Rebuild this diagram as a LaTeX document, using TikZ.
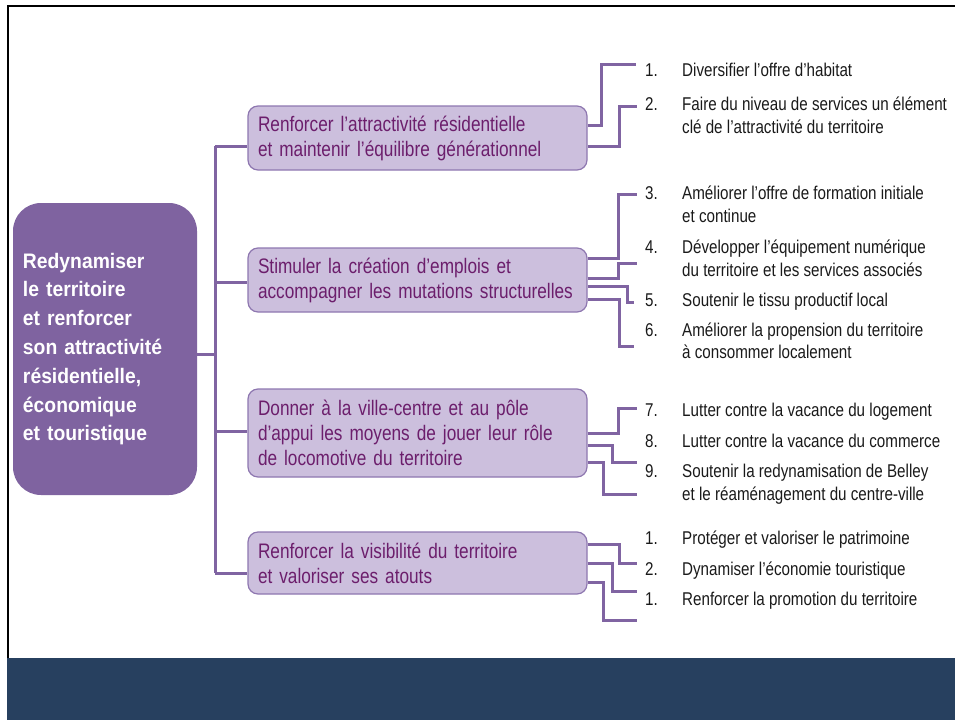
\documentclass[tikz,border=0pt]{standalone}
\usepackage{fontspec}
\setmainfont{Liberation Sans}
\newfontfamily\nfont{Liberation Sans}[FakeStretch=0.82]
\newfontfamily\bfontm{Liberation Sans}[FakeStretch=0.92]
\usetikzlibrary{calc}
\definecolor{mainF}{RGB}{127,99,160}
\definecolor{lineC}{RGB}{128,100,162}
\definecolor{boxF}{RGB}{204,191,221}
\definecolor{boxB}{RGB}{142,119,176}
\definecolor{boxT}{RGB}{108,30,108}
\definecolor{itemT}{RGB}{26,26,26}
\definecolor{bandC}{RGB}{39,64,95}
\begin{document}
\begin{tikzpicture}[x=1pt,y=-1pt,
  conn/.style={draw=lineC, line width=3pt},
  mainbox/.style={fill=mainF, rounded corners=28pt, minimum width=184pt, minimum height=292pt,
    text width=164pt, inner xsep=10pt, align=left, text=white,
    font=\bfontm\bfseries\fontsize{21}{28.8}\selectfont},
  sub/.style={draw=boxB, line width=1.2pt, fill=boxF, rounded corners=10pt,
    minimum width=339pt, text width=319pt, inner xsep=10pt, align=left, text=boxT,
    font=\nfont\fontsize{21}{25}\selectfont},
  itm/.style={anchor=base west, inner sep=0pt, text=itemT, font=\nfont\fontsize{18.5}{23}\selectfont}
]
\useasboundingbox (0,0) rectangle (955,720);
\fill[bandC] (7,658) rectangle (955,720);
\draw[black, line width=2.5pt, line join=miter] (8,658) -- (8,6) -- (955,6);

% main box
\node[mainbox] (main) at (105,349) {Redynamiser\\le territoire\\et renforcer\\son attractivité\\résidentielle,\\économique\\et touristique};

% sub boxes
\node[sub, minimum height=64pt] (b1) at (417.5,138) {Renforcer l’attractivité résidentielle\\et maintenir l’équilibre générationnel};
\node[sub, minimum height=64pt] (b2) at (417.5,280) {Stimuler la création d’emplois et\\accompagner les mutations structurelles};
\node[sub, minimum height=88pt] (b3) at (417.5,433) {Donner à la ville-centre et au pôle\\d’appui les moyens de jouer leur rôle\\de locomotive du territoire};
\node[sub, minimum height=62pt] (b4) at (417.5,563) {Renforcer la visibilité du territoire\\et valoriser ses atouts};

% spine
\coordinate (s1) at (215,146);
\coordinate (s2) at (215,282);
\coordinate (s3) at (215,431);
\coordinate (s4) at (215,573);
\coordinate (sm) at (215,354);
\draw[conn] (s1) -- (s4);
\draw[conn] (main.east |- sm) -- (sm);
\draw[conn] (s1) -- (b1.west |- s1);
\draw[conn] (s2) -- (b2.west |- s2);
\draw[conn] (s3) -- (b3.west |- s3);
\draw[conn] (s4) -- (b4.west |- s4);

% connector ends
\coordinate (e1) at (636,64);
\coordinate (e2) at (637,106);
\coordinate (e3) at (637,194);
\coordinate (e4) at (637,263);
\coordinate (e5) at (634,302);
\coordinate (e6) at (634,346);
\coordinate (e7) at (637,408);
\coordinate (e8) at (637,462);
\coordinate (e9) at (637,494);
\coordinate (e10) at (637,563);
\coordinate (e11) at (637,591);
\coordinate (e12) at (637,620);

\draw[conn] ($(b1.east)+(0,-13)$) -- ++(14,0) |- (e1);
\draw[conn] ($(b1.east)+(0,8)$) -- ++(32,0) |- (e2);
\draw[conn] ($(b2.east)+(0,-22)$) -- ++(31,0) |- (e3);
\draw[conn] ($(b2.east)+(0,-2)$) -- ++(31,0) |- (e4);
\draw[conn] ($(b2.east)+(0,6)$) -- ++(40,0) |- (e5);
\draw[conn] ($(b2.east)+(0,19)$) -- ++(32,0) |- (e6);
\draw[conn] ($(b3.east)+(0,0)$) -- ++(31,0) |- (e7);
\draw[conn] ($(b3.east)+(0,12)$) -- ++(25,0) |- (e8);
\draw[conn] ($(b3.east)+(0,29)$) -- ++(16,0) |- (e9);
\draw[conn] ($(b4.east)+(0,-19)$) -- ++(32,0) |- (e10);
\draw[conn] ($(b4.east)+(0,0)$) -- ++(25,0) |- (e11);
\draw[conn] ($(b4.east)+(0,19)$) -- ++(16,0) |- (e12);

% items
\node[itm] (n1) at (645,76) {1.};
\node[itm] (t1) at (682,76) {Diversifier l’offre d’habitat};
\node[itm] (n2) at (645,110) {2.};
\node[itm] (t2a) at (682,110) {Faire du niveau de services un élément};
\node[itm] (t2b) at (682,133) {clé de l’attractivité du territoire};
\node[itm] (n3) at (645,199) {3.};
\node[itm] (t3a) at (682,199) {Améliorer l’offre de formation initiale};
\node[itm] (t3b) at (682,222) {et continue};
\node[itm] (n4) at (645,253) {4.};
\node[itm] (t4a) at (682,253) {Développer l’équipement numérique};
\node[itm] (t4b) at (682,276) {du territoire et les services associés};
\node[itm] (n5) at (645,306) {5.};
\node[itm] (t5) at (682,306) {Soutenir le tissu productif local};
\node[itm] (n6) at (645,336) {6.};
\node[itm] (t6a) at (682,336) {Améliorer la propension du territoire};
\node[itm] (t6b) at (682,358) {à consommer localement};
\node[itm] (n7) at (645,416) {7.};
\node[itm] (t7) at (682,416) {Lutter contre la vacance du logement};
\node[itm] (n8) at (645,447) {8.};
\node[itm] (t8) at (682,447) {Lutter contre la vacance du commerce};
\node[itm] (n9) at (645,477) {9.};
\node[itm] (t9a) at (682,477) {Soutenir la redynamisation de Belley};
\node[itm] (t9b) at (682,500) {et le réaménagement du centre-ville};
\node[itm] (n10) at (645,544) {1.};
\node[itm] (t10) at (682,544) {Protéger et valoriser le patrimoine};
\node[itm] (n11) at (645,575) {2.};
\node[itm] (t11) at (682,575) {Dynamiser l’économie touristique};
\node[itm] (n12) at (645,605) {1.};
\node[itm] (t12) at (682,605) {Renforcer la promotion du territoire};
\end{tikzpicture}
\end{document}
